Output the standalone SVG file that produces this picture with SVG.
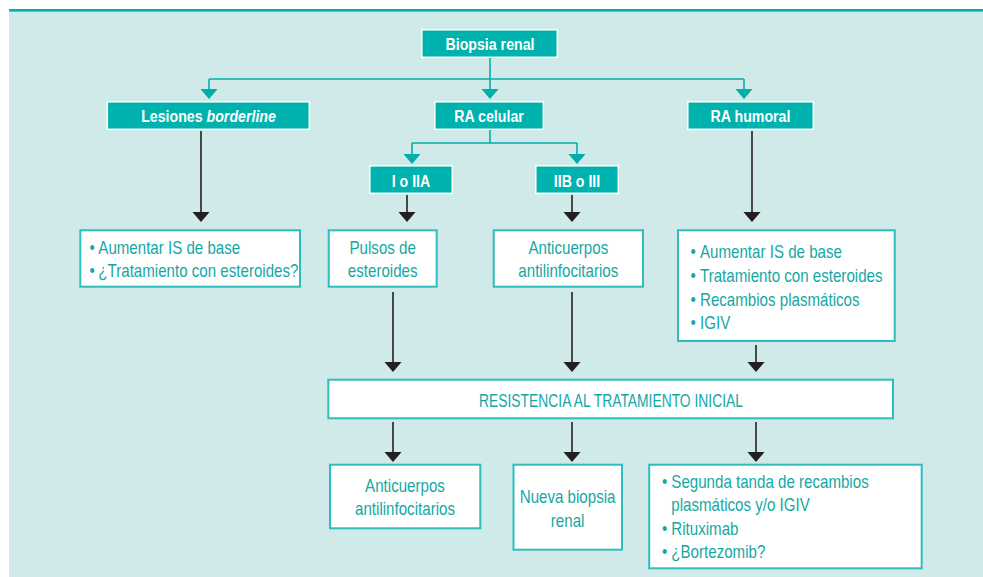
<svg xmlns="http://www.w3.org/2000/svg" width="983" height="577" viewBox="0 0 983 577">
<style>
.hd{font-family:"Liberation Sans",Arial,sans-serif;font-weight:bold;font-size:16.5px;fill:#ffffff;text-anchor:middle}
.tx{font-family:"Liberation Sans",Arial,sans-serif;font-size:18px;fill:#14a8a4}
.mid{text-anchor:middle}
.tbox{fill:#00b2ad;stroke:#ffffff;stroke-width:1.5}
.wbox{fill:#ffffff;stroke:#2fbdbc;stroke-width:2}
.tl{fill:none;stroke:#00aeaa;stroke-width:1.6}
.bl{fill:none;stroke:#231f20;stroke-width:1.6}
</style>
<defs>
<marker id="ta" markerUnits="userSpaceOnUse" markerWidth="12" markerHeight="20" viewBox="0 0 12 20" refX="8.5" refY="9" orient="auto"><path d="M0,0 L10.5,9 L0,18 z" fill="#00aeaa"/></marker>
<marker id="ba" markerUnits="userSpaceOnUse" markerWidth="12" markerHeight="20" viewBox="0 0 12 20" refX="8.5" refY="9" orient="auto"><path d="M0,0 L10.5,9 L0,18 z" fill="#231f20"/></marker>
</defs>
<rect x="9" y="9" width="974" height="568" fill="#d0eaea"/>
<rect x="9" y="9" width="974" height="2.6" fill="#00b0aa"/>

<g id="connectors">
<path class="tl" d="M490,58 V79"/>
<path class="tl" d="M209,79 H744"/>
<path class="tl" d="M209,79 V97" marker-end="url(#ta)"/>
<path class="tl" d="M490,79 V97" marker-end="url(#ta)"/>
<path class="tl" d="M744,79 V97" marker-end="url(#ta)"/>
<path class="tl" d="M490,130 V143 M412,143 H577"/>
<path class="tl" d="M412,143 V162" marker-end="url(#ta)"/>
<path class="tl" d="M577,143 V162" marker-end="url(#ta)"/>
<path class="bl" d="M201,131 V220" marker-end="url(#ba)"/>
<path class="bl" d="M407,195 V220" marker-end="url(#ba)"/>
<path class="bl" d="M572,195 V220" marker-end="url(#ba)"/>
<path class="bl" d="M752,131 V220" marker-end="url(#ba)"/>
<path class="bl" d="M393,292 V370" marker-end="url(#ba)"/>
<path class="bl" d="M572,292 V370" marker-end="url(#ba)"/>
<path class="bl" d="M756,345 V370" marker-end="url(#ba)"/>
<path class="bl" d="M393,422 V460" marker-end="url(#ba)"/>
<path class="bl" d="M572,422 V460" marker-end="url(#ba)"/>
<path class="bl" d="M756,422 V460" marker-end="url(#ba)"/>
</g>

<g id="biopsia">
<rect class="tbox" x="421.8" y="29.8" width="135.5" height="27.5"/>
<text class="hd" transform="translate(490,50) scale(0.86,1)">Biopsia renal</text>
</g>
<g id="lesiones">
<rect class="tbox" x="107.3" y="101.8" width="202" height="27.5"/>
<text class="hd" transform="translate(208.5,122) scale(0.86,1)">Lesiones <tspan font-style="italic">borderline</tspan></text>
</g>
<g id="racelular">
<rect class="tbox" x="434.8" y="101.8" width="108.5" height="27.5"/>
<text class="hd" transform="translate(489,122) scale(0.86,1)">RA celular</text>
</g>
<g id="rahumoral">
<rect class="tbox" x="687.8" y="101.8" width="125.5" height="27.5"/>
<text class="hd" transform="translate(750.5,122) scale(0.86,1)">RA humoral</text>
</g>
<g id="ioiia">
<rect class="tbox" x="369.8" y="165.8" width="82.5" height="27.5"/>
<text class="hd" transform="translate(411,186.5) scale(0.86,1)">I o IIA</text>
</g>
<g id="iiboiii">
<rect class="tbox" x="535.8" y="165.8" width="82.5" height="27.5"/>
<text class="hd" transform="translate(577,186.5) scale(0.86,1)">IIB o III</text>
</g>

<g id="borderline-tx">
<rect class="wbox" x="80.3" y="230.3" width="219.7" height="56.4"/>
<text class="tx" transform="translate(89.5,254) scale(0.84,1)">•</text>
<text class="tx" transform="translate(98.3,254) scale(0.84,1)">Aumentar IS de base</text>
<text class="tx" transform="translate(89.5,277) scale(0.84,1)">•</text>
<text class="tx" transform="translate(98.3,277) scale(0.84,1)">¿Tratamiento con esteroides?</text>
</g>
<g id="pulsos">
<rect class="wbox" x="328.7" y="230.3" width="108" height="56.4"/>
<text class="tx mid" transform="translate(382.7,254) scale(0.84,1)">Pulsos de</text>
<text class="tx mid" transform="translate(382.7,277) scale(0.84,1)">esteroides</text>
</g>
<g id="anticuerpos1">
<rect class="wbox" x="493.7" y="230.3" width="149.3" height="56.4"/>
<text class="tx mid" transform="translate(568.3,254) scale(0.84,1)">Anticuerpos</text>
<text class="tx mid" transform="translate(568.3,277) scale(0.84,1)">antilinfocitarios</text>
</g>
<g id="humoral-tx">
<rect class="wbox" x="678" y="230.3" width="216.7" height="110.7"/>
<text class="tx" transform="translate(690.5,257.7) scale(0.84,1)">•</text>
<text class="tx" transform="translate(700,257.7) scale(0.84,1)">Aumentar IS de base</text>
<text class="tx" transform="translate(690.5,281.7) scale(0.84,1)">•</text>
<text class="tx" transform="translate(700,281.7) scale(0.84,1)">Tratamiento con esteroides</text>
<text class="tx" transform="translate(690.5,305.7) scale(0.84,1)">•</text>
<text class="tx" transform="translate(700,305.7) scale(0.84,1)">Recambios plasmáticos</text>
<text class="tx" transform="translate(690.5,329.3) scale(0.84,1)">•</text>
<text class="tx" transform="translate(700,329.3) scale(0.84,1)">IGIV</text>
</g>
<g id="resistencia">
<rect class="wbox" x="328.3" y="379.7" width="564.7" height="38.6"/>
<text class="tx mid" transform="translate(611,406.5) scale(0.77,1)">RESISTENCIA AL TRATAMIENTO INICIAL</text>
</g>
<g id="anticuerpos2">
<rect class="wbox" x="330" y="464.7" width="150.3" height="63.6"/>
<text class="tx mid" transform="translate(405,491.7) scale(0.84,1)">Anticuerpos</text>
<text class="tx mid" transform="translate(405,515) scale(0.84,1)">antilinfocitarios</text>
</g>
<g id="nuevabiopsia">
<rect class="wbox" x="513.5" y="464.7" width="108.5" height="85"/>
<text class="tx mid" transform="translate(567.6,503) scale(0.84,1)">Nueva biopsia</text>
<text class="tx mid" transform="translate(567.6,526.7) scale(0.84,1)">renal</text>
</g>
<g id="segunda">
<rect class="wbox" x="649.2" y="464.7" width="272.5" height="103.6"/>
<text class="tx" transform="translate(662,488) scale(0.84,1)">•</text>
<text class="tx" transform="translate(671.3,488) scale(0.84,1)">Segunda tanda de recambios</text>
<text class="tx" transform="translate(671.3,511.2) scale(0.84,1)">plasmáticos y/o IGIV</text>
<text class="tx" transform="translate(662,535) scale(0.84,1)">•</text>
<text class="tx" transform="translate(671.3,535) scale(0.84,1)">Rituximab</text>
<text class="tx" transform="translate(662,558.3) scale(0.84,1)">•</text>
<text class="tx" transform="translate(671.3,558.3) scale(0.84,1)">¿Bortezomib?</text>
</g>
</svg>
